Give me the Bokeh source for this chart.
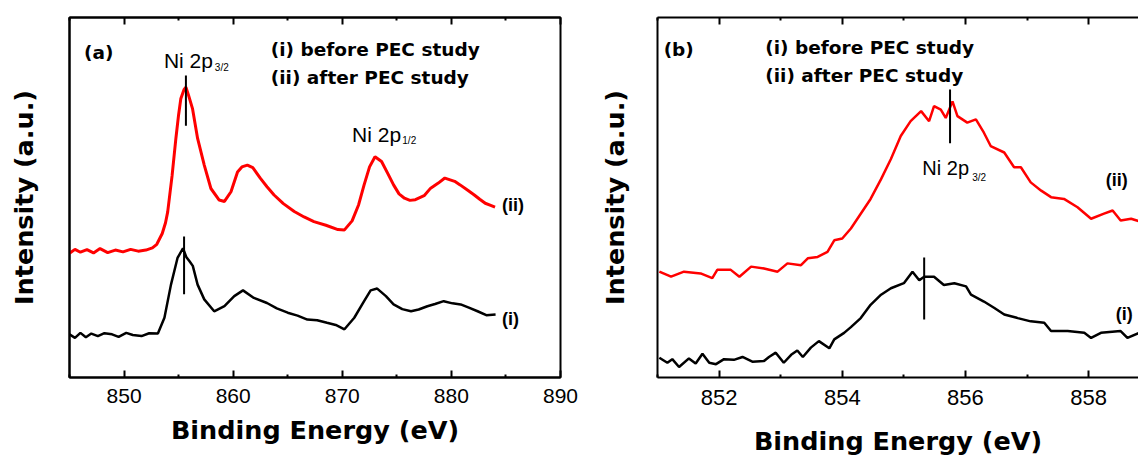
from bokeh.plotting import figure
from bokeh.models import Range1d, FixedTicker, LinearAxis, Label, ColumnDataSource
from bokeh.layouts import row
from bokeh.embed import file_html
from bokeh.resources import INLINE

# ---------------- data: panel (a) survey spectrum ----------------
a_energy_i = [845.0, 845.5, 846.0, 846.5, 847.0, 847.6, 848.2, 848.9, 849.5, 850.2,
              850.8, 851.6, 852.3, 853.1, 853.7, 854.3, 854.9, 855.4, 855.7, 856.0,
              856.3, 856.74, 857.35, 858.26, 859.2, 860.1, 860.9, 861.9, 863.1, 864.0,
              865.0, 865.9, 866.8, 867.7, 868.6, 869.4, 870.2, 871.1, 872.0, 872.6,
              873.2, 874.0, 874.7, 875.5, 876.3, 877.0, 877.8, 878.5, 879.3, 880.1,
              880.85, 881.6, 882.4, 883.2, 884.05]
a_intensity_i = [12.0, 11.0, 12.4, 11.2, 12.2, 11.5, 12.3, 12.0, 11.3, 12.4,
                 11.8, 11.5, 12.3, 12.2, 16.6, 25.8, 33.2, 35.9, 33.5, 32.3,
                 31.0, 25.8, 21.7, 18.4, 19.8, 22.6, 24.2, 22.1, 20.7, 19.2,
                 18.0, 17.2, 16.1, 15.9, 15.2, 14.6, 13.4, 16.6, 21.2, 24.2,
                 24.7, 22.6, 20.3, 19.0, 18.4, 18.9, 19.8, 20.4, 21.2, 20.6,
                 20.3, 19.4, 18.4, 17.3, 17.5]

a_energy_ii = [845.0, 845.5, 846.0, 846.6, 847.2, 847.8, 848.5, 849.2, 849.9, 850.6,
               851.3, 852.0, 852.6, 853.0, 853.5, 853.8, 854.0, 854.4, 854.75, 855.0,
               855.2, 855.5, 855.67, 855.9, 856.28, 856.74, 857.35, 857.96, 858.72, 859.2,
               859.8, 860.4, 860.8, 861.3, 861.8, 862.5, 863.1, 863.75, 864.6, 865.6,
               866.5, 867.4, 868.5, 869.6, 870.2, 870.9, 871.5, 872.0, 872.5, 873.0,
               873.6, 874.2, 874.7, 875.2, 875.7, 876.2, 876.7, 877.5, 878.1, 878.8,
               879.4, 880.3, 880.8, 881.5, 882.1, 882.6, 883.1, 883.6, 884.0]
a_intensity_ii = [34.5, 35.6, 34.8, 35.5, 34.6, 35.8, 34.7, 35.4, 34.9, 35.6,
                  35.1, 35.4, 36.0, 37.0, 40.0, 43.0, 46.0, 56.0, 66.4, 73.0,
                  77.4, 80.0, 80.6, 78.5, 74.6, 66.4, 59.0, 52.5, 49.3, 48.9,
                  51.6, 57.1, 58.5, 59.0, 58.3, 55.3, 53.0, 50.7, 48.3, 46.1,
                  44.6, 43.3, 42.3, 41.1, 41.0, 43.5, 48.0, 53.5, 58.5, 61.3,
                  60.0, 56.5, 53.5, 51.0, 49.8, 49.2, 49.4, 50.5, 52.6, 54.0,
                  55.4, 54.5, 53.5, 52.0, 50.7, 49.5, 48.4, 47.8, 47.3]

# peak markers (a): ii, i
a_mark_x = [855.67, 855.5]
a_mark_y0 = [69.9, 23.1]
a_mark_y1 = [83.9, 39.2]

a_ticks = [850, 860, 870, 880, 890]
a_minor = [845, 855, 865, 875, 885]

# ---------------- data: panel (b) Ni 2p3/2 region ----------------
b_energy_i = [851.03, 851.16, 851.24, 851.35, 851.51, 851.62, 851.73, 851.84, 851.95, 852.08,
              852.24, 852.38, 852.54, 852.73, 852.81, 852.92, 853.05, 853.17, 853.27, 853.36,
              853.49, 853.62, 853.79, 853.87, 854.03, 854.14, 854.30, 854.46, 854.63, 854.79,
              855.0, 855.14, 855.25, 855.33, 855.49, 855.65, 855.82, 856.01, 856.09, 856.30,
              856.47, 856.63, 856.85, 857.06, 857.28, 857.39, 857.66, 857.93, 858.04, 858.20,
              858.52, 858.63, 858.82]
b_intensity_i = [5.5, 4.1, 5.1, 2.9, 5.3, 3.9, 6.6, 4.1, 3.7, 5.1,
                 4.9, 5.7, 4.4, 4.6, 5.7, 6.9, 4.1, 6.3, 7.5, 5.7,
                 8.3, 10.1, 8.1, 10.6, 12.4, 14.0, 16.5, 20.2, 23.0, 24.8,
                 26.2, 29.4, 27.0, 28.0, 28.0, 25.7, 26.2, 25.3, 23.0, 21.1,
                 19.3, 17.5, 16.5, 15.6, 15.2, 12.9, 12.9, 12.4, 11.0, 12.4,
                 12.9, 11.0, 12.4]

b_energy_ii = [851.03, 851.22, 851.43, 851.70, 851.89, 851.97, 852.19, 852.33, 852.52, 852.73,
               852.95, 853.11, 853.33, 853.44, 853.60, 853.76, 853.87, 854.00, 854.14, 854.30,
               854.46, 854.63, 854.79, 854.95, 855.11, 855.28, 855.41, 855.49, 855.60, 855.68,
               855.79, 855.87, 856.03, 856.17, 856.30, 856.41, 856.63, 856.79, 856.90, 857.06,
               857.23, 857.39, 857.60, 857.82, 858.04, 858.25, 858.39, 858.52, 858.69, 858.82]
b_intensity_ii = [29.4, 28.0, 29.4, 28.9, 27.6, 29.9, 29.9, 28.0, 30.8, 30.3,
                  29.4, 31.7, 31.2, 33.1, 33.5, 34.9, 38.1, 38.6, 41.4, 45.5,
                  49.6, 55.1, 60.7, 67.1, 71.2, 74.0, 71.2, 75.4, 74.4, 72.1,
                  76.7, 72.6, 70.8, 71.7, 68.0, 64.3, 62.5, 58.4, 58.4, 54.2,
                  51.9, 50.1, 49.6, 47.3, 44.1, 45.5, 46.4, 43.6, 44.1, 43.4]

b_mark_x = [855.75, 855.33]
b_mark_y0 = [65.1, 16.1]
b_mark_y1 = [80.0, 33.3]

b_ticks = [852, 854, 856, 858]
b_minor = [851, 853, 855, 857]

# ---------------- texts ----------------
x_title = "Binding Energy (eV)"
y_title = "Intensity (a.u.)"
txt_before = "(i) before PEC study"
txt_after_a = "(ii) after PEC study"
txt_after_b = "(ii) after PEC  study"
txt_ni = "Ni 2p"
sub_32 = "3/2"
sub_12 = "1/2"

RED = "#ff0000"
BOLD_FONT = "DejaVu Sans"
REG_FONT = "Liberation Sans"


def style_x_axis(ax, ticks, minor, size, standoff, label_standoff, show_labels=True):
    ax.ticker = FixedTicker(ticks=ticks, minor_ticks=minor)
    ax.axis_line_width = 2
    ax.axis_line_color = "black"
    ax.major_tick_in = 7
    ax.major_tick_out = 0
    ax.minor_tick_in = 3
    ax.minor_tick_out = 0
    ax.major_tick_line_width = 2
    ax.minor_tick_line_width = 2
    ax.major_tick_line_color = "black"
    ax.minor_tick_line_color = "black"
    if show_labels:
        ax.major_label_text_font = REG_FONT
        ax.major_label_text_font_size = size
        ax.major_label_text_color = "black"
        ax.major_label_standoff = standoff
        ax.axis_label_text_font = BOLD_FONT
        ax.axis_label_text_font_style = "bold"
        ax.axis_label_text_font_size = "25.5px"
        ax.axis_label_text_color = "black"
        ax.axis_label_standoff = label_standoff
    else:
        ax.major_label_overrides = {t: "" for t in ticks}
        ax.major_label_text_font_size = "1px"
        ax.major_label_standoff = 0


def style_y_axis(ax, label_standoff):
    ax.ticker = FixedTicker(ticks=[])
    ax.axis_line_width = 2
    ax.axis_line_color = "black"
    ax.major_tick_in = 0
    ax.major_tick_out = 0
    ax.minor_tick_in = 0
    ax.minor_tick_out = 0
    ax.major_label_standoff = 0
    ax.axis_label_text_font = BOLD_FONT
    ax.axis_label_text_font_style = "bold"
    ax.axis_label_text_font_size = "25.5px"
    ax.axis_label_text_color = "black"
    ax.axis_label_standoff = label_standoff


def add_label(p, x, y, text, font, size, bold):
    p.add_layout(Label(x=x, y=y, text=text, text_font=font, text_font_size=size,
                       text_font_style="bold" if bold else "normal", text_color="black",
                       text_align="left", text_baseline="alphabetic"))


# ---------------- panel (a) ----------------
p1 = figure(width=590, height=459, x_range=Range1d(845, 890), y_range=Range1d(0, 100),
            output_backend="svg", toolbar_location=None,
            x_axis_label=x_title, y_axis_label=y_title,
            min_border_left=69, min_border_right=30, min_border_top=15, min_border_bottom=82)
p1.grid.visible = False
p1.outline_line_color = "black"
p1.outline_line_width = 2
p1.outline_line_alpha = 1.0
p1.background_fill_color = "white"
p1.border_fill_color = "white"
style_x_axis(p1.xaxis[0], a_ticks, a_minor, "21px", 11, 9)
style_y_axis(p1.yaxis[0], 31)
top1 = LinearAxis()
style_x_axis(top1, a_ticks, a_minor, "1px", 0, 0, show_labels=False)
p1.add_layout(top1, "above")

p1.line(a_energy_ii, a_intensity_ii, line_color=RED, line_width=3)
p1.line(a_energy_i, a_intensity_i, line_color="black", line_width=2.5)
p1.segment(x0="x", y0="y0", x1="x", y1="y1", line_color="black", line_width=2,
           source=ColumnDataSource(dict(x=a_mark_x, y0=a_mark_y0, y1=a_mark_y1)))

add_label(p1, 846.33, 90.2, "(a)", BOLD_FONT, "18.5px", True)
add_label(p1, 853.65, 88.1, txt_ni, REG_FONT, "21px", False)
add_label(p1, 858.32, 86.2, sub_32, REG_FONT, "10px", False)
add_label(p1, 863.45, 91.0, txt_before, BOLD_FONT, "18.5px", True)
add_label(p1, 863.45, 83.2, txt_after_a, BOLD_FONT, "18.5px", True)
add_label(p1, 870.9, 67.6, txt_ni, REG_FONT, "21px", False)
add_label(p1, 875.5, 65.7, sub_12, REG_FONT, "10px", False)
add_label(p1, 884.63, 48.0, "(ii)", REG_FONT, "18px", True)
add_label(p1, 884.63, 16.2, "(i)", REG_FONT, "18px", True)

# ---------------- panel (b) ----------------
p2 = figure(width=548, height=459, x_range=Range1d(851, 858.81), y_range=Range1d(0, 100),
            output_backend="svg", toolbar_location=None,
            x_axis_label=x_title, y_axis_label=y_title,
            min_border_left=67, min_border_right=0, min_border_top=17, min_border_bottom=79)
p2.grid.visible = False
p2.outline_line_color = None
p2.background_fill_color = "white"
p2.border_fill_color = "white"
style_x_axis(p2.xaxis[0], b_ticks, b_minor, "22px", 12, 18)
style_y_axis(p2.yaxis[0], 28)
top2 = LinearAxis()
style_x_axis(top2, b_ticks, b_minor, "1px", 0, 0, show_labels=False)
p2.add_layout(top2, "above")

p2.line(b_energy_ii, b_intensity_ii, line_color=RED, line_width=2.5)
p2.line(b_energy_i, b_intensity_i, line_color="black", line_width=2.5)
p2.segment(x0="x", y0="y0", x1="x", y1="y1", line_color="black", line_width=2,
           source=ColumnDataSource(dict(x=b_mark_x, y0=b_mark_y0, y1=b_mark_y1)))

add_label(p2, 851.10, 91.1, "(b)", BOLD_FONT, "18.5px", True)
add_label(p2, 852.75, 91.6, txt_before, BOLD_FONT, "18.5px", True)
add_label(p2, 852.75, 83.8, txt_after_b, BOLD_FONT, "18.5px", True)
add_label(p2, 855.30, 58.3, txt_ni, REG_FONT, "20px", False)
add_label(p2, 856.11, 55.6, sub_32, REG_FONT, "10px", False)
add_label(p2, 858.28, 54.9, "(ii)", REG_FONT, "18px", True)
add_label(p2, 858.44, 17.6, "(i)", REG_FONT, "18px", True)

layout = row(p1, p2)
open("out.html", "w").write(file_html(layout, INLINE))
